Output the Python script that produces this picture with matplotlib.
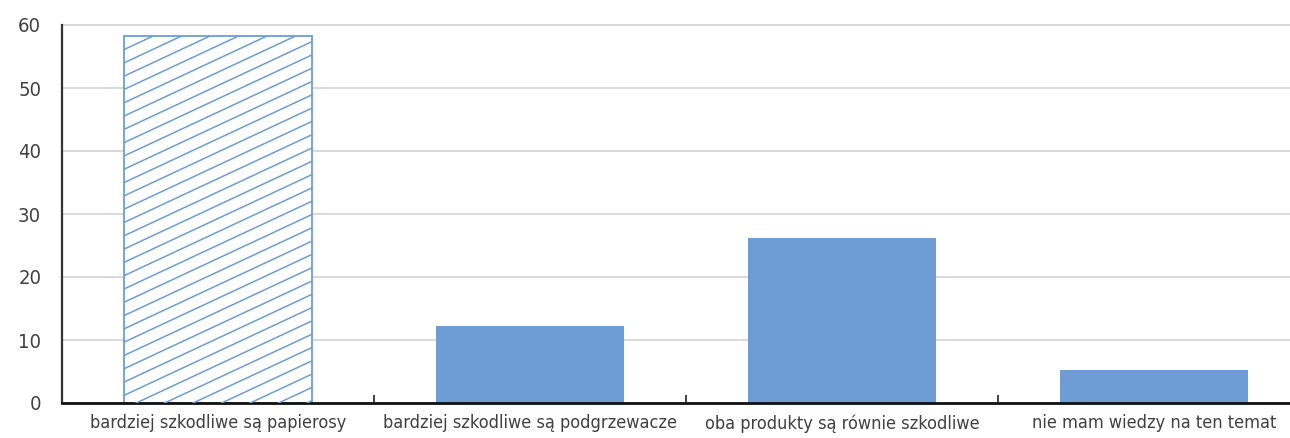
import matplotlib
matplotlib.use("Agg")
import matplotlib.pyplot as plt
import numpy as np
from matplotlib.collections import LineCollection
from matplotlib.transforms import IdentityTransform

# survey answers (percent)
categories = [
    "bardziej szkodliwe są papierosy",
    "bardziej szkodliwe są podgrzewacze",
    "oba produkty są równie szkodliwe",
    "nie mam wiedzy na ten temat",
]
values = [58.2, 12.2, 26.2, 5.2]
hatched = [True, False, False, False]
yticks = [0, 10, 20, 30, 40, 50, 60]

blue = "#6d9dd4"
text_col = "#404040"

plt.rcParams["font.family"] = ["Liberation Sans Narrow", "DejaVu Sans"]
plt.rcParams["font.stretch"] = "condensed"

W, H = 1290, 438
fig = plt.figure(figsize=(W / 100, H / 100), dpi=100)
ax = fig.add_axes([62 / W, 35 / H, 1248 / W, 378 / H])

x = np.arange(len(categories))
bars = ax.bar(x, values, width=0.6, color=blue, zorder=2)

for bar, h in zip(bars, hatched):
    if not h:
        continue
    bar.set_facecolor("white")
    bar.set_edgecolor(blue)
    bar.set_linewidth(1.3)
    # shallow diagonal hatch, drawn in pixel space and clipped to the bar
    slope = 0.467
    offs = np.arange(-800, 600, 13.3)
    segs = [[(0, c), (W, c + slope * W)] for c in offs]
    lc = LineCollection(segs, colors=blue, linewidths=1.1,
                        transform=IdentityTransform(), zorder=3)
    ax.add_collection(lc, autolim=False)
    # set after add_collection, otherwise the axes patch replaces it
    lc.set_clip_path(bar.get_path(), bar.get_transform())

ax.set_xlim(-0.5, len(categories) - 0.5)
ax.set_ylim(0, 60)
ax.set_yticks(yticks)
ax.set_xticks(x)
ax.set_xticklabels(categories)
ax.set_xticks(x[:-1] + 0.5, minor=True)

ax.tick_params(axis="x", which="major", length=0, pad=8,
               labelsize=13, labelcolor=text_col)
ax.tick_params(axis="x", which="minor", direction="in", length=6,
               width=1.2, color="#222222")
ax.tick_params(axis="y", length=0, pad=15, labelsize=14.5, labelcolor=text_col)

ax.yaxis.grid(True, color="#d9d9d9", linewidth=1.4)
ax.set_axisbelow(True)
for gl in ax.get_ygridlines():
    gl.set_clip_on(False)

for s in ["top", "right"]:
    ax.spines[s].set_visible(False)
ax.spines["left"].set_color("#333333")
ax.spines["left"].set_linewidth(1.6)
ax.spines["bottom"].set_color("#111111")
ax.spines["bottom"].set_linewidth(2)

fig.savefig("out.png", dpi=100)
